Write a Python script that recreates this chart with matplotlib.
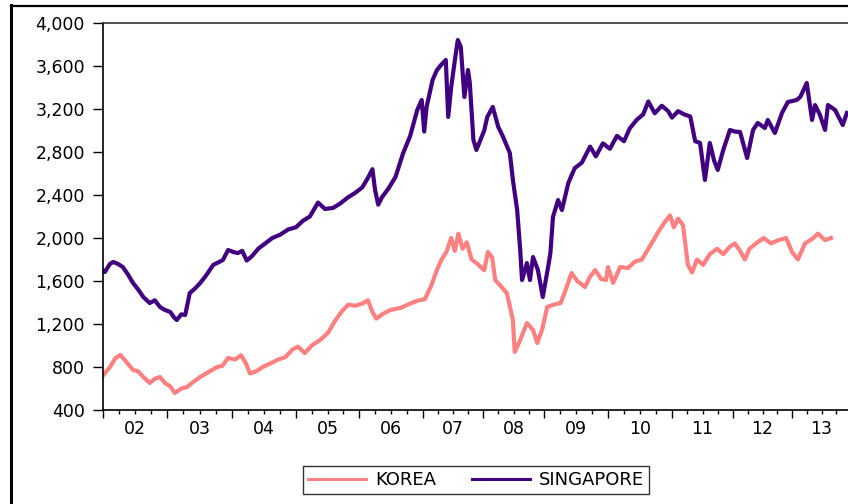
import matplotlib
matplotlib.use("Agg")
import matplotlib.pyplot as plt
from matplotlib.lines import Line2D
import numpy as np

# observations per calendar year in the workfile (2002 .. 2013)
first_year = 2002
days_in_year = [256, 260, 256, 252, 256, 240, 244, 256, 256, 244, 236, 236]

# KOREA index (dates as fractional years)
korea_t = [2002.00, 2002.03, 2002.11, 2002.19, 2002.27, 2002.36, 2002.47, 2002.55, 2002.63, 2002.73,
           2002.81, 2002.89, 2002.97, 2003.05, 2003.12, 2003.22, 2003.31, 2003.40, 2003.51, 2003.63,
           2003.77, 2003.85, 2003.94, 2004.05, 2004.14, 2004.22, 2004.28, 2004.38, 2004.48, 2004.59,
           2004.72, 2004.83, 2004.94, 2005.03, 2005.14, 2005.25, 2005.38, 2005.51, 2005.62, 2005.73,
           2005.83, 2005.94, 2006.05, 2006.14, 2006.21, 2006.27, 2006.36, 2006.49, 2006.65, 2006.80,
           2006.93, 2007.03, 2007.14, 2007.23, 2007.31, 2007.39, 2007.47, 2007.53, 2007.59, 2007.66,
           2007.73, 2007.81, 2007.89, 2008.02, 2008.08, 2008.15, 2008.20, 2008.28, 2008.39, 2008.49,
           2008.52, 2008.61, 2008.72, 2008.82, 2008.89, 2008.97, 2009.05, 2009.15, 2009.26, 2009.34,
           2009.43, 2009.52, 2009.64, 2009.72, 2009.80, 2009.89, 2009.97, 2010.00, 2010.08, 2010.19,
           2010.31, 2010.42, 2010.53, 2010.63, 2010.73, 2010.81, 2010.89, 2010.97, 2011.03, 2011.10,
           2011.18, 2011.26, 2011.33, 2011.41, 2011.51, 2011.62, 2011.74, 2011.84, 2011.95, 2012.03,
           2012.12, 2012.20, 2012.28, 2012.39, 2012.52, 2012.64, 2012.77, 2012.90, 2013.00, 2013.10,
           2013.22, 2013.34, 2013.44, 2013.56, 2013.66]
korea = [720, 744, 800, 880, 912, 850, 772, 760, 707, 651,
         690, 707, 650, 620, 558, 600, 614, 660, 707, 750,
         800, 810, 884, 870, 910, 830, 740, 760, 800, 830,
         870, 890, 960, 990, 930, 1000, 1050, 1120, 1230, 1320,
         1380, 1370, 1390, 1420, 1310, 1250, 1290, 1330, 1350, 1390,
         1420, 1430, 1560, 1700, 1800, 1870, 2000, 1880, 2040, 1900,
         1960, 1800, 1767, 1700, 1870, 1820, 1609, 1560, 1488, 1237,
         940, 1051, 1209, 1144, 1023, 1150, 1358, 1380, 1395, 1520,
         1674, 1600, 1544, 1640, 1702, 1620, 1609, 1730, 1581, 1730,
         1720, 1780, 1800, 1900, 2000, 2080, 2150, 2210, 2100, 2180,
         2120, 1750, 1680, 1800, 1750, 1850, 1900, 1850, 1920, 1950,
         1880, 1800, 1900, 1950, 2000, 1950, 1980, 2000, 1870, 1800,
         1950, 1990, 2040, 1980, 2000]

# SINGAPORE index
sing_t = [2002.00, 2002.03, 2002.11, 2002.16, 2002.23, 2002.31, 2002.39, 2002.47, 2002.55, 2002.63,
          2002.73, 2002.81, 2002.89, 2002.97, 2003.05, 2003.11, 2003.15, 2003.22, 2003.28, 2003.35,
          2003.43, 2003.51, 2003.60, 2003.71, 2003.78, 2003.86, 2003.94, 2004.02, 2004.09, 2004.16,
          2004.23, 2004.31, 2004.41, 2004.52, 2004.63, 2004.75, 2004.88, 2005.00, 2005.11, 2005.22,
          2005.35, 2005.46, 2005.59, 2005.70, 2005.83, 2005.94, 2006.05, 2006.14, 2006.21, 2006.25,
          2006.30, 2006.36, 2006.46, 2006.57, 2006.69, 2006.80, 2006.91, 2006.98, 2007.02, 2007.06,
          2007.16, 2007.23, 2007.30, 2007.38, 2007.42, 2007.47, 2007.53, 2007.58, 2007.63, 2007.69,
          2007.75, 2007.78, 2007.84, 2007.89, 2008.02, 2008.07, 2008.16, 2008.25, 2008.33, 2008.44,
          2008.49, 2008.56, 2008.61, 2008.64, 2008.72, 2008.77, 2008.82, 2008.90, 2008.98, 2009.07,
          2009.10, 2009.14, 2009.22, 2009.28, 2009.38, 2009.48, 2009.59, 2009.72, 2009.81, 2009.92,
          2010.03, 2010.14, 2010.25, 2010.34, 2010.45, 2010.55, 2010.63, 2010.73, 2010.84, 2010.94,
          2011.00, 2011.10, 2011.20, 2011.30, 2011.38, 2011.46, 2011.54, 2011.62, 2011.69, 2011.75,
          2011.84, 2011.95, 2012.03, 2012.12, 2012.24, 2012.34, 2012.42, 2012.54, 2012.59, 2012.71,
          2012.83, 2012.93, 2013.08, 2013.14, 2013.25, 2013.34, 2013.39, 2013.47, 2013.56, 2013.61,
          2013.73, 2013.86, 2013.93]
singapore = [1700, 1684, 1760, 1777, 1760, 1730, 1660, 1581, 1520, 1451,
             1395, 1420, 1358, 1330, 1312, 1260, 1237, 1290, 1284, 1488,
             1530, 1581, 1650, 1749, 1770, 1795, 1888, 1870, 1860, 1880,
             1790, 1830, 1900, 1950, 2000, 2030, 2080, 2100, 2160, 2200,
             2330, 2270, 2280, 2320, 2380, 2420, 2470, 2560, 2640, 2450,
             2310, 2380, 2460, 2567, 2790, 2950, 3191, 3284, 2990, 3219,
             3470, 3560, 3609, 3656, 3126, 3405, 3650, 3842, 3777, 3312,
             3563, 3442, 2912, 2819, 3000, 3126, 3219, 3033, 2940, 2790,
             2540, 2260, 1888, 1609, 1767, 1609, 1823, 1702, 1451, 1750,
             1860, 2195, 2353, 2260, 2512, 2650, 2700, 2850, 2760, 2880,
             2830, 2950, 2900, 3020, 3100, 3150, 3270, 3160, 3230, 3180,
             3120, 3180, 3150, 3130, 2900, 2884, 2540, 2884, 2720, 2633,
             2819, 3005, 2990, 2986, 2744, 3005, 3070, 3023, 3098, 2977,
             3163, 3265, 3284, 3312, 3442, 3098, 3237, 3150, 3005, 3237,
             3191, 3051, 3163]

year_labels = ["02", "03", "04", "05", "06", "07", "08", "09", "10", "11", "12", "13"]

# map dates onto the observation axis
year_edges = np.arange(first_year, first_year + len(days_in_year) + 1)
obs_edges = np.concatenate([[0], np.cumsum(days_in_year)])


def to_obs(t):
    return np.interp(t, year_edges, obs_edges)


plt.rcParams["font.family"] = ["DejaVu Sans"]

W, H = 848, 504
fig = plt.figure(figsize=(W / 100, H / 100), dpi=100)
ax = fig.add_axes([103 / W, (H - 410) / H, (W - 103) / W, 387 / H])

ax.plot(to_obs(korea_t), korea, color="#FF8080", lw=3.0, label="KOREA", solid_joinstyle="round")
ax.plot(to_obs(sing_t), singapore, color="#400080", lw=3.0, label="SINGAPORE", solid_joinstyle="round")

ax.set_ylim(400, 4000)
ax.set_yticks(np.arange(400, 4001, 400))
ax.set_yticklabels([f"{v:,}" for v in range(400, 4001, 400)])
ax.set_xlim(0, 745 * 4)

# year boundaries as major ticks, quarters as minor ticks, labels mid-year
majors = to_obs(year_edges[:-1])
quarters = [y + q / 4 for y in year_edges[:-1] for q in (1, 2, 3)]
ax.set_xticks(majors)
ax.set_xticklabels([])
ax.set_xticks(to_obs(quarters), minor=True)
ax.set_xticklabels([year_labels[i // 3] if i % 3 == 1 else "" for i in range(len(quarters))], minor=True)

ax.tick_params(axis="y", direction="out", length=7, width=1, pad=6, labelsize=12.5, colors="black")
ax.tick_params(axis="x", which="major", direction="out", length=6, width=1)
ax.tick_params(axis="x", which="minor", direction="out", length=3, width=1, pad=4, labelsize=12.5)

ax.spines["right"].set_visible(False)
for s in ("left", "bottom", "top"):
    ax.spines[s].set_linewidth(1.2)
ax.spines["top"].set_color("#333333")

# outer frame
fig.add_artist(Line2D([11 / W, 11 / W], [0, 1 - 5 / H], color="black", lw=2.2, transform=fig.transFigure))
fig.add_artist(Line2D([11 / W, 1], [1 - 6 / H, 1 - 6 / H], color="black", lw=1.6, transform=fig.transFigure))

leg = fig.legend(loc="center", bbox_to_anchor=(476 / W, 1 - 480 / H), ncol=2, fontsize=13,
                 frameon=True, fancybox=False, edgecolor="black", handlelength=3.2,
                 columnspacing=2.0, handletextpad=0.5, borderpad=0.3, borderaxespad=0)
leg.get_frame().set_linewidth(1.0)
for line in leg.get_lines():
    line.set_linewidth(2.2)

fig.savefig("out.png", dpi=100)
